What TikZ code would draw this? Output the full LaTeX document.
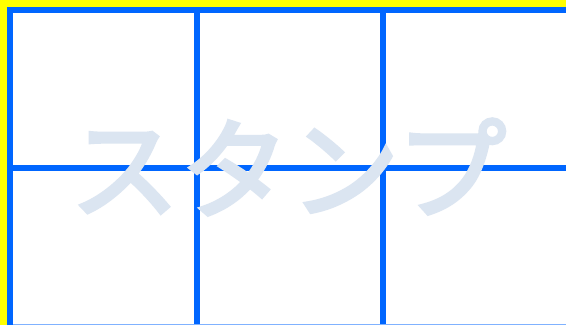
\documentclass[tikz,border=0pt]{standalone}
\usepackage{fontspec}
\newfontfamily\cjk[FakeBold=3]{Noto Sans CJK JP}
\definecolor{bandyellow}{rgb}{1,1,0}
\definecolor{gridblue}{rgb}{0,0.4,1}
\definecolor{lightline}{rgb}{0.5,0.7,1}
\definecolor{stamptext}{rgb}{0.86,0.9,0.945}
\tikzset{
  gridline/.style={draw=gridblue, line width=6pt},
}
\begin{document}
\begin{tikzpicture}[x=1pt,y=1pt]
\useasboundingbox (0,0) rectangle (566,325);
\fill[bandyellow] (0,0) rectangle (566,325);
\fill[white] (7,0) rectangle (566,318);
% grid lines (y measured from bottom: y = 325 - py)
\draw[gridline] (10,0) -- (10,315);
\draw[gridline] (196.5,0) -- (196.5,315);
\draw[gridline] (383,0) -- (383,315);
\draw[gridline] (7,315) -- (566,315);
\draw[gridline] (7,157) -- (566,157);
\draw[lightline, line width=1.2pt] (13,0.6) -- (566,0.6);
\node[text=stamptext, font=\cjk\fontsize{110}{110}\selectfont, inner sep=0pt] (stamp) at (288,158) {スタンプ};
\end{tikzpicture}
\end{document}
